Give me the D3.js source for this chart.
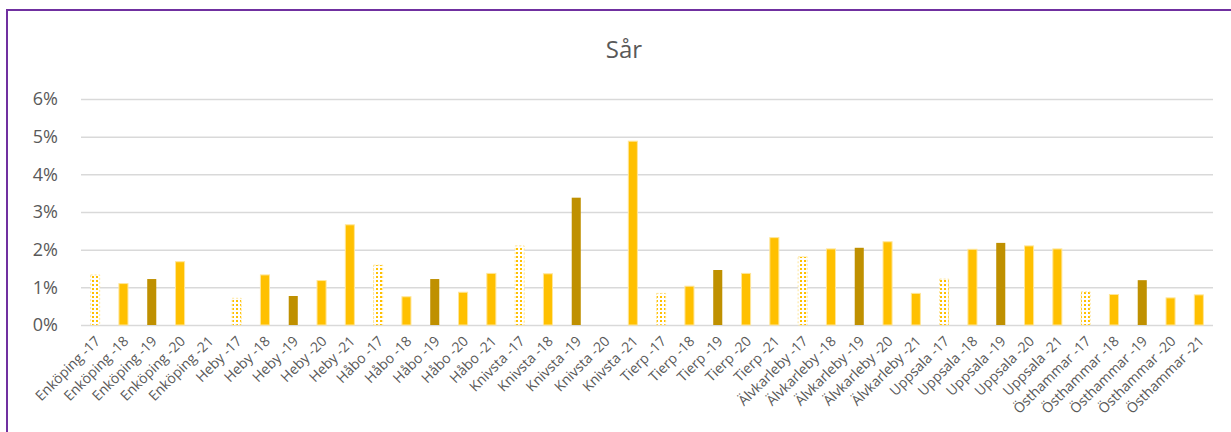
<!DOCTYPE html>
<html>
<head>
<meta charset="utf-8">
<script src="https://cdn.jsdelivr.net/npm/d3@7"></script>
<style>
  body { margin: 0; background: #fff; }
  svg, svg text { font-family: "Open Sans", "Noto Sans", sans-serif; }
  svg { display: block; }
</style>
</head>
<body>
<script>
"use strict";

// Municipalities and years, one bar per combination.
const places = ["Enköping", "Heby", "Håbo", "Knivsta", "Tierp", "Älvkarleby", "Uppsala", "Östhammar"];
const years = ["-17", "-18", "-19", "-20", "-21"];
const categories = places.flatMap(p => years.map(y => `${p} ${y}`));

// Share (%) per category.
const values = [
  1.33, 1.10, 1.22, 1.68, 0,
  0.71, 1.33, 0.77, 1.18, 2.66,
  1.59, 0.75, 1.22, 0.87, 1.37,
  2.10, 1.36, 3.38, 0, 4.88,
  0.84, 1.03, 1.46, 1.37, 2.32,
  1.81, 2.02, 2.05, 2.21, 0.84,
  1.22, 2.01, 2.18, 2.10, 2.02,
  0.88, 0.81, 1.19, 0.72, 0.80
];
const yTicks = [0, 1, 2, 3, 4, 5, 6];

const width = 1231, height = 432;
const margin = {top: 99, right: 18, bottom: 107, left: 81};

const svg = d3.select("body").append("svg")
    .attr("width", width)
    .attr("height", height);

let defs = svg.append("defs");
let pattern = defs.append("pattern")
    .attr("id", "dots")
    .attr("patternUnits", "userSpaceOnUse")
    .attr("width", 4)
    .attr("height", 4);
pattern.append("rect")
    .attr("width", 4).attr("height", 4)
    .attr("fill", "#fff");
pattern.append("rect")
    .attr("x", 0).attr("y", 0)
    .attr("width", 2).attr("height", 2)
    .attr("fill", "#FFC000");

// Purple frame, only top and left edges are visible in the crop.
svg.append("rect")
    .attr("x", 7).attr("y", 10)
    .attr("width", width + 20).attr("height", height + 20)
    .attr("fill", "none")
    .attr("stroke", "#7030A0")
    .attr("stroke-width", 2);

svg.append("text")
    .attr("x", 624)
    .attr("y", 58)
    .attr("text-anchor", "middle")
    .attr("font-size", 24)
    .attr("fill", "#595959")
    .text("Sår");

let x = d3.scaleBand()
    .domain(categories)
    .range([margin.left, width - margin.right])
    .paddingInner(0.68)
    .paddingOuter(0.34);

let y = d3.scaleLinear()
    .domain([0, 6])
    .range([height - margin.bottom, margin.top]);

// Gridlines + y labels
let yAxis = svg.append("g")
    .attr("transform", `translate(${margin.left},0)`)
    .call(d3.axisLeft(y)
      .tickValues(yTicks)
      .tickSize(-(width - margin.left - margin.right))
      .tickPadding(23)
      .tickFormat(d => d + "%"));
yAxis.attr("font-family", null);
yAxis.select(".domain").remove();
yAxis.selectAll("line")
    .attr("stroke", "#d9d9d9")
    .attr("stroke-width", 1.5);
yAxis.selectAll("text")
    .attr("font-size", 18)
    .attr("fill", "#595959");

svg.append("g")
  .selectAll("rect")
  .data(values)
  .join("rect")
    .attr("x", (d, i) => x(categories[i]))
    .attr("y", d => y(d))
    .attr("width", x.bandwidth())
    .attr("height", d => y(0) - y(d))
    .attr("fill", (d, i) => {
      let yr = i % 5;
      if (yr === 0) return "url(#dots)";
      if (yr === 2) return "#BF9000";
      return "#FFC000";
    })
    .attr("stroke", (d, i) => i % 5 === 2 ? "none" : "#FFE699")
    .attr("stroke-width", 1)
    .attr("stroke-dasharray", (d, i) => i % 5 === 0 ? "2,2" : null)
    .style("display", d => d > 0 ? null : "none");

// x labels, rotated
let xAxis = svg.append("g")
    .attr("transform", `translate(0,${height - margin.bottom})`)
    .call(d3.axisBottom(x).tickSize(0).tickPadding(0));
xAxis.attr("font-family", null);
xAxis.select(".domain").remove();
xAxis.selectAll("text")
    .attr("font-size", 14)
    .attr("fill", "#595959")
    .attr("text-anchor", "end")
    .attr("dy", null)
    .attr("transform", "translate(6,17) rotate(-45)");
</script>
</body>
</html>
